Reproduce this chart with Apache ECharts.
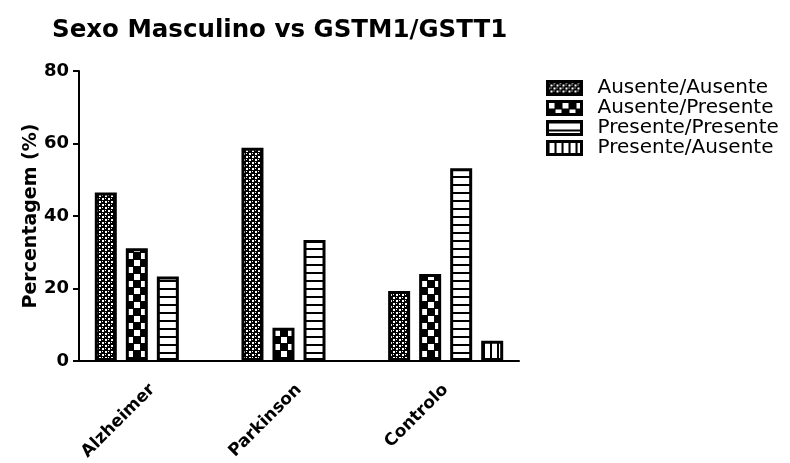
<!DOCTYPE html>
<html>
<head>
<meta charset="utf-8">
<script src="https://cdn.jsdelivr.net/npm/echarts@6/dist/echarts.min.js"></script>
<style>html,body{margin:0;padding:0;background:#fff}#chart{width:790px;height:463px}</style>
</head>
<body>
<div id="chart"></div>
<script>
const titleText = 'Sexo Masculino vs GSTM1/GSTT1';
const yAxisName = 'Percentagem (%)';
const categories = ['Alzheimer', 'Parkinson', 'Controlo'];
const seriesNames = ['Ausente/Ausente', 'Ausente/Presente', 'Presente/Presente', 'Presente/Ausente'];
const ausenteAusente = [46.5, 58.8, 19.3];
const ausentePresente = [31.1, 9.2, 24.0];
const presentePresente = [23.3, 33.4, 53.2];
const presenteAusente = [null, null, 5.6];
const yTicks = [0, 20, 40, 60, 80];

function makePattern(type) {
  const c = document.createElement('canvas');
  let ctx;
  if (type === 'fine') {
    c.width = 6; c.height = 6; ctx = c.getContext('2d');
    ctx.fillStyle = '#000'; ctx.fillRect(0, 0, 6, 6);
    ctx.fillStyle = '#fff';
    ctx.fillRect(0, 0, 2, 2); ctx.fillRect(3, 3, 2, 2);
    ctx.fillRect(3, 0, 1, 1); ctx.fillRect(0, 3, 1, 1);
  } else if (type === 'checker') {
    c.width = 14; c.height = 14; ctx = c.getContext('2d');
    ctx.fillStyle = '#000'; ctx.fillRect(0, 0, 14, 14);
    ctx.fillStyle = '#fff';
    ctx.fillRect(1, 1, 6, 6); ctx.fillRect(8, 8, 6, 6);
  } else if (type === 'hlines') {
    c.width = 8; c.height = 8; ctx = c.getContext('2d');
    ctx.fillStyle = '#fff'; ctx.fillRect(0, 0, 8, 8);
    ctx.fillStyle = '#000'; ctx.fillRect(0, 0, 8, 2);
  } else {
    c.width = 7; c.height = 7; ctx = c.getContext('2d');
    ctx.fillStyle = '#fff'; ctx.fillRect(0, 0, 7, 7);
    ctx.fillStyle = '#000'; ctx.fillRect(0, 0, 2, 7);
  }
  return { image: c, repeat: 'repeat' };
}

const patterns = [makePattern('fine'), makePattern('checker'), makePattern('hlines'), makePattern('vlines')];
const dataSets = [ausenteAusente, ausentePresente, presentePresente, presenteAusente];

const chart = echarts.init(document.getElementById('chart'), null, { renderer: 'canvas' });
chart.setOption({
  animation: false,
  backgroundColor: '#fff',
  title: {
    text: titleText,
    left: 47, top: 13,
    textStyle: { fontFamily: 'DejaVu Sans', fontWeight: 'bold', fontSize: 24.5, color: '#000' }
  },
  legend: {
    orient: 'vertical',
    left: 546, top: 78, padding: 0,
    itemWidth: 34, itemHeight: 13, itemGap: 0,
    icon: 'rect',
    data: seriesNames,
    itemStyle: { borderColor: '#000', borderWidth: 3 },
    textStyle: { fontFamily: 'DejaVu Sans', fontSize: 20, lineHeight: 19, color: '#000', padding: [0, 0, 0, 11] }
  },
  grid: { left: 79, right: 271, top: 71, bottom: 100, containLabel: false },
  xAxis: {
    type: 'category',
    data: categories,
    axisLine: { lineStyle: { color: '#000', width: 2 } },
    axisTick: { alignWithLabel: true, length: 5, lineStyle: { color: '#000', width: 2 } },
    axisLabel: { rotate: 45, margin: 26, fontFamily: 'DejaVu Sans', fontWeight: 'bold', fontSize: 17, color: '#000' }
  },
  yAxis: {
    type: 'value',
    min: yTicks[0], max: yTicks[yTicks.length - 1], interval: 20,
    name: yAxisName,
    nameLocation: 'middle', nameRotate: 90, nameGap: 38,
    nameMoveOverlap: false,
    nameTextStyle: { fontFamily: 'DejaVu Sans', fontWeight: 'bold', fontSize: 19, color: '#000' },
    axisLine: { show: true, lineStyle: { color: '#000', width: 2 } },
    axisTick: { show: true, length: 6, lineStyle: { color: '#000', width: 2 } },
    axisLabel: { margin: 10, fontFamily: 'DejaVu Sans', fontWeight: 'bold', fontSize: 18, color: '#000' },
    splitLine: { show: false }
  },
  series: seriesNames.map((name, i) => ({
    name: name,
    type: 'bar',
    data: dataSets[i],
    barWidth: 22,
    barGap: '41%',
    itemStyle: { color: patterns[i], borderColor: '#000', borderWidth: 3 }
  }))
});
</script>
</body>
</html>
